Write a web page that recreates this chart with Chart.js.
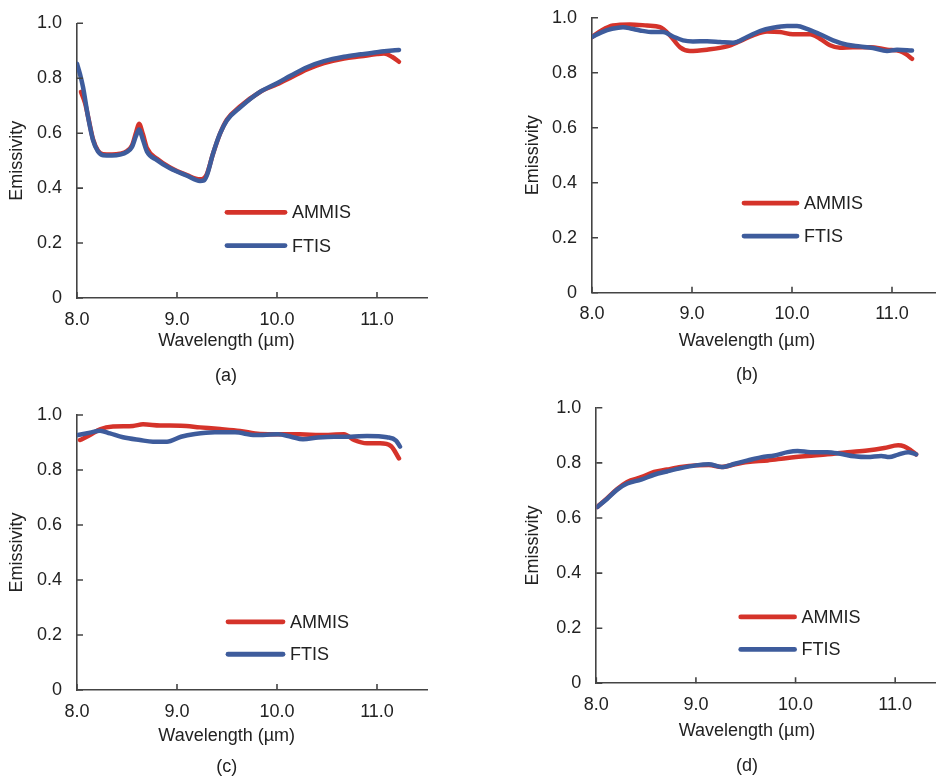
<!DOCTYPE html>
<html><head><meta charset="utf-8">
<script src="https://cdn.jsdelivr.net/npm/chart.js@4.4.1/dist/chart.umd.min.js"></script>
<style>
html,body{margin:0;padding:0;width:936px;height:780px;overflow:hidden;background:#fff;position:relative;}
canvas{position:absolute;}
.lbl{position:absolute;font:18px "Liberation Sans",Arial,sans-serif;color:#222;line-height:18px;white-space:nowrap;transform:translateX(-50%);}
</style></head><body>
<canvas id="ca" width="468" height="390" style="left:0;top:0"></canvas>
<canvas id="cb" width="480" height="390" style="left:468px;top:0"></canvas>
<canvas id="cc" width="468" height="390" style="left:0;top:390px"></canvas>
<canvas id="cd" width="480" height="390" style="left:468px;top:390px"></canvas>
<script>
// ---------- data ----------
const seriesNames = ['AMMIS', 'FTIS'];
const panelLetters = ['(a)', '(b)', '(c)', '(d)'];
const xTitle = 'Wavelength (\u00b5m)';
const yTitle = 'Emissivity';
const xTicks = [8, 9, 10, 11];
const xTickLabels = ['8.0', '9.0', '10.0', '11.0'];
const yTicks = [0, 0.2, 0.4, 0.6, 0.8, 1.0];
const yTickLabels = ['0', '0.2', '0.4', '0.6', '0.8', '1.0'];

// panel (a)
const wlA_ammis = [8.04,8.08,8.11,8.16,8.21,8.26,8.35,8.43,8.50,8.55,8.59,8.62,8.66,8.70,8.80,8.93,9.10,9.23,9.27,9.30,9.36,9.43,9.50,9.63,9.83,10.00,10.14,10.30,10.47,10.67,10.84,11.00,11.07,11.15,11.22];
const ammisA    = [0.750,0.710,0.662,0.578,0.536,0.523,0.522,0.525,0.535,0.555,0.602,0.634,0.595,0.545,0.507,0.475,0.447,0.432,0.436,0.452,0.525,0.598,0.650,0.697,0.750,0.778,0.803,0.832,0.855,0.872,0.880,0.888,0.890,0.878,0.860];
const wlA_ftis  = [8.00,8.03,8.06,8.11,8.16,8.21,8.26,8.35,8.43,8.50,8.55,8.59,8.62,8.66,8.70,8.80,8.93,9.10,9.23,9.27,9.30,9.36,9.43,9.50,9.63,9.83,10.00,10.14,10.30,10.47,10.67,10.84,11.00,11.10,11.22];
const ftisA     = [0.853,0.815,0.768,0.660,0.575,0.533,0.520,0.519,0.522,0.532,0.550,0.590,0.613,0.575,0.533,0.502,0.472,0.445,0.426,0.428,0.448,0.525,0.598,0.647,0.693,0.750,0.782,0.810,0.840,0.862,0.878,0.887,0.895,0.899,0.903];

// panel (b)
const wlB_ammis = [8.00,8.10,8.21,8.38,8.55,8.68,8.78,8.88,8.98,9.15,9.35,9.48,9.61,9.75,9.88,10.01,10.18,10.28,10.38,10.48,10.61,10.78,10.95,11.08,11.14,11.20];
const ammisB    = [0.930,0.955,0.972,0.976,0.972,0.966,0.936,0.893,0.879,0.884,0.896,0.915,0.936,0.950,0.948,0.940,0.940,0.924,0.900,0.891,0.893,0.893,0.884,0.879,0.868,0.851];
const wlB_ftis  = [8.00,8.10,8.20,8.31,8.40,8.48,8.61,8.71,8.81,8.91,9.01,9.15,9.28,9.41,9.55,9.68,9.81,9.95,10.05,10.15,10.28,10.41,10.55,10.68,10.81,10.95,11.05,11.20];
const ftisB     = [0.930,0.948,0.960,0.966,0.960,0.954,0.948,0.948,0.932,0.918,0.914,0.915,0.912,0.909,0.930,0.952,0.964,0.970,0.970,0.960,0.940,0.918,0.902,0.896,0.890,0.879,0.884,0.881];

// panel (c)
const wlC_ammis = [8.03,8.13,8.23,8.36,8.56,8.66,8.83,9.04,9.23,9.43,9.63,9.83,10.03,10.23,10.43,10.67,10.77,10.90,11.03,11.14,11.22];
const ammisC    = [0.909,0.927,0.948,0.958,0.960,0.966,0.962,0.961,0.955,0.949,0.942,0.931,0.930,0.930,0.927,0.930,0.909,0.897,0.897,0.887,0.842];
const wlC_ftis  = [8.01,8.13,8.23,8.33,8.46,8.63,8.76,8.90,9.04,9.18,9.38,9.58,9.78,10.01,10.14,10.26,10.41,10.57,10.74,10.90,11.10,11.19,11.23];
const ftisC     = [0.927,0.936,0.943,0.933,0.919,0.909,0.903,0.903,0.921,0.931,0.937,0.937,0.927,0.930,0.921,0.912,0.918,0.921,0.921,0.924,0.919,0.907,0.885];

// panel (d)
const wlD_ammis = [8.01,8.11,8.21,8.31,8.45,8.58,8.71,8.85,9.00,9.13,9.26,9.39,9.52,9.72,9.92,10.12,10.32,10.52,10.72,10.89,11.03,11.09,11.16,11.21];
const ammisD    = [0.640,0.672,0.705,0.731,0.748,0.767,0.776,0.785,0.791,0.792,0.785,0.795,0.803,0.809,0.818,0.825,0.831,0.839,0.845,0.854,0.864,0.860,0.845,0.831];
const wlD_ftis  = [8.01,8.11,8.21,8.31,8.45,8.58,8.71,8.85,9.00,9.13,9.26,9.39,9.52,9.66,9.79,9.92,10.02,10.15,10.32,10.45,10.59,10.72,10.86,10.94,11.03,11.13,11.21];
const ftisD     = [0.640,0.670,0.703,0.725,0.739,0.757,0.769,0.781,0.791,0.795,0.785,0.797,0.809,0.821,0.827,0.839,0.843,0.839,0.839,0.833,0.824,0.821,0.825,0.821,0.830,0.839,0.831];

// ---------- styling / layout ----------
const RED = '#d5332a', BLUE = '#3e5c9c', AX = '#444', TXT = '#222';
const FONT = {family: '"Liberation Sans", Arial, sans-serif', size: 18};

const panels = [
  {id:'ca', c:{l:0,t:0,w:468,h:390},   a:{l:77,t:23.3,r:427,b:298},   yt:6,  lg:{x0:9.50,x1:10.08,y:[0.312,0.191]}, xt:[226.5,340], cap:[226,375],
   series:[[wlA_ammis,ammisA],[wlA_ftis,ftisA]]},
  {id:'cb', c:{l:468,t:0,w:480,h:390}, a:{l:592,t:17.3,r:942,b:292.7}, yt:54, lg:{x0:9.52,x1:10.05,y:[0.326,0.206]}, xt:[747,340], cap:[747,374],
   series:[[wlB_ammis,ammisB],[wlB_ftis,ftisB]]},
  {id:'cc', c:{l:0,t:390,w:468,h:390}, a:{l:77,t:415,r:427,b:690},   yt:6,  lg:{x0:9.51,x1:10.06,y:[0.248,0.130]}, xt:[226.7,735], cap:[226.7,766],
   series:[[wlC_ammis,ammisC],[wlC_ftis,ftisC]]},
  {id:'cd', c:{l:468,t:390,w:480,h:390}, a:{l:596.3,t:407.3,r:945,b:683.3}, yt:54, lg:{x0:9.45,x1:9.99,y:[0.241,0.123]}, xt:[747,730], cap:[747,765],
   series:[[wlD_ammis,ammisD],[wlD_ftis,ftisD]]}
];

const innerTicks = {
  id: 'innerTicks',
  afterDraw(chart) {
    const {ctx, chartArea: a, scales: {x, y}} = chart;
    ctx.save();
    ctx.strokeStyle = AX; ctx.lineWidth = 1.6;
    ctx.beginPath();
    xTicks.forEach(v => { const px = x.getPixelForValue(v); ctx.moveTo(px, a.bottom); ctx.lineTo(px, a.bottom - 6); });
    yTicks.forEach(v => { const py = y.getPixelForValue(v); ctx.moveTo(a.left, py); ctx.lineTo(a.left + 6, py); });
    ctx.stroke();
    ctx.restore();
  }
};

const innerLegend = {
  id: 'innerLegend',
  afterDraw(chart, args, opts) {
    const {ctx, scales: {x, y}} = chart;
    const x0 = x.getPixelForValue(opts.x0), x1 = x.getPixelForValue(opts.x1);
    ctx.save();
    chart.data.datasets.forEach((ds, i) => {
      const py = y.getPixelForValue(opts.y[i]);
      ctx.strokeStyle = ds.borderColor; ctx.lineWidth = 4.8; ctx.lineCap = 'round';
      ctx.beginPath(); ctx.moveTo(x0, py); ctx.lineTo(x1, py); ctx.stroke();
      ctx.fillStyle = TXT; ctx.font = FONT.size + 'px ' + FONT.family;
      ctx.textBaseline = 'middle'; ctx.textAlign = 'left';
      ctx.fillText(ds.label, x1 + 7, py + 1);
    });
    ctx.restore();
  }
};

function pts(xs, ys) { return xs.map((v, i) => ({x: v, y: ys[i]})); }

panels.forEach((p, k) => {
  const colors = [RED, BLUE];
  const datasets = p.series.map((s, i) => ({
    label: seriesNames[i], data: pts(s[0], s[1]),
    borderColor: colors[i], backgroundColor: colors[i], borderWidth: 4.5,
    pointRadius: 0, cubicInterpolationMode: 'monotone', fill: false,
    borderCapStyle: 'round', borderJoinStyle: 'round', order: i === 1 ? 0 : 1
  }));
  new Chart(document.getElementById(p.id), {
    type: 'line',
    data: {datasets},
    options: {
      responsive: false, animation: false, devicePixelRatio: 1,
      layout: {padding: {left: 0, top: p.a.t - p.c.t, right: (p.c.l + p.c.w) - p.a.r, bottom: 0}},
      plugins: {legend: {display: false}, tooltip: {enabled: false}, innerLegend: p.lg},
      scales: {
        x: {
          type: 'linear', min: 8, max: 11.5,
          grid: {display: false}, border: {display: true, color: AX, width: 1.6},
          ticks: {font: FONT, color: TXT, padding: 3, maxRotation: 0, callback: (v, i) => xTickLabels[i]},
          afterBuildTicks: s => { s.ticks = xTicks.map(v => ({value: v})); },
          afterFit: s => { s.height = (p.c.t + p.c.h) - p.a.b; }
        },
        y: {
          type: 'linear', min: 0, max: 1,
          grid: {display: false}, border: {display: true, color: AX, width: 1.6},
          ticks: {font: FONT, color: TXT, padding: 7, callback: (v, i) => yTickLabels[i]},
          afterBuildTicks: s => { s.ticks = yTicks.map(v => ({value: v})); },
          title: {display: true, text: yTitle, font: FONT, color: TXT, padding: {top: p.yt, bottom: 0}},
          afterFit: s => { s.width = p.a.l - p.c.l; }
        }
      }
    },
    plugins: [innerTicks, innerLegend]
  });
  const t = document.createElement('div');
  t.className = 'lbl'; t.textContent = xTitle;
  t.style.left = p.xt[0] + 'px'; t.style.top = (p.xt[1] - 9) + 'px';
  document.body.appendChild(t);
  const c = document.createElement('div');
  c.className = 'lbl'; c.textContent = panelLetters[k];
  c.style.left = p.cap[0] + 'px'; c.style.top = (p.cap[1] - 9) + 'px';
  document.body.appendChild(c);
});
</script>
</body></html>
